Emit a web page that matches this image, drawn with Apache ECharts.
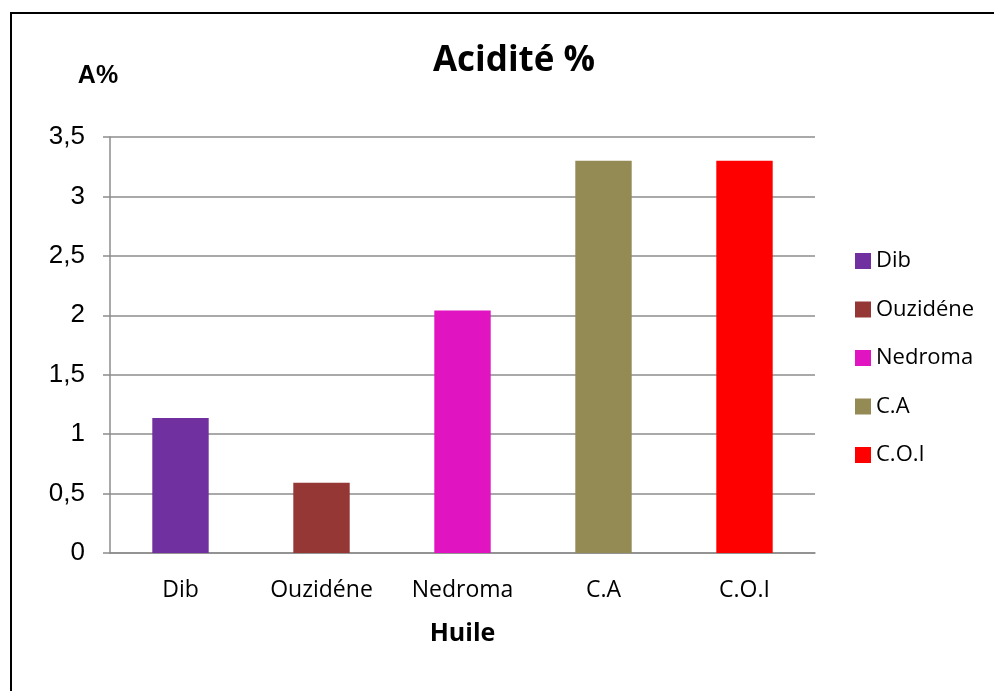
<!DOCTYPE html>
<html>
<head>
<meta charset="utf-8">
<title>Acidité %</title>
<script src="https://cdn.jsdelivr.net/npm/echarts@6/dist/echarts.min.js"></script>
<style>
  html, body { margin: 0; padding: 0; background: #fff; overflow: hidden; }
  .frame { position: absolute; left: 10px; top: 12px; width: 1100px; height: 800px; border: 2px solid #000; }
  #chart { position: absolute; left: 0; top: 0; width: 994px; height: 691px; }
</style>
</head>
<body>
<div class="frame"></div>
<div id="chart"></div>
<script>
// huiles et acidité (%)
const categories = ['Dib', 'Ouzidéne', 'Nedroma', 'C.A', 'C.O.I']
const acidite = [1.135, 0.59, 2.04, 3.3, 3.3]
const colors = ['#7030A0', '#953735', '#E014C0', '#948A54', '#FF0000']

const gridColor = '#8c8c8c'

let Bar = echarts.init(document.getElementById('chart'))

// one series per huile so the legend lists them, stacked so each bar stays centred
let series = categories.map((name, i) => ({
  name: name,
  type: 'bar',
  stack: 'huile',
  barWidth: '40%',
  itemStyle: { color: colors[i] },
  data: categories.map((c, j) => (j === i ? acidite[i] : null))
}))

const option = {
  animation: false,
  title: {
    text: 'Acidité %',
    left: 509,
    top: 39,
    textAlign: 'center',
    textStyle: { fontFamily: 'Open Sans', fontWeight: 'bold', fontSize: 35, color: '#000' }
  },
  legend: {
    orient: 'vertical',
    left: 855,
    top: 250,
    padding: 0,
    itemWidth: 16,
    itemHeight: 16,
    itemGap: 26.5,
    icon: 'rect',
    textStyle: { fontFamily: 'Open Sans', fontSize: 22, color: '#000', lineHeight: 22 },
    data: categories
  },
  grid: { left: 110, right: 179, top: 137, bottom: 138 },
  xAxis: {
    type: 'category',
    data: categories,
    name: 'Huile',
    nameLocation: 'middle',
    nameGap: 68,
    nameTextStyle: { fontFamily: 'Open Sans', fontWeight: 'bold', fontSize: 25, color: '#000' },
    axisLine: { lineStyle: { color: gridColor, width: 1.5 } },
    axisTick: { length: 8, lineStyle: { color: gridColor, width: 1.5 } },
    axisLabel: { margin: 26, fontFamily: 'Open Sans', fontSize: 23, color: '#000' }
  },
  yAxis: {
    type: 'value',
    min: 0,
    max: 3.5,
    interval: 0.5,
    name: 'A%',
    nameLocation: 'end',
    nameGap: 48,
    nameTextStyle: { fontFamily: 'Liberation Sans', fontWeight: 'bold', fontSize: 25, color: '#000', padding: [0, 24, 0, 0] },
    axisLine: { show: true, lineStyle: { color: gridColor, width: 1.5 } },
    axisTick: { show: true, length: 7, lineStyle: { color: gridColor, width: 1.5 } },
    splitLine: { lineStyle: { color: gridColor, width: 1.5 } },
    axisLabel: {
      margin: 25,
      fontFamily: 'Liberation Sans',
      fontSize: 26,
      color: '#000',
      formatter: v => String(v).replace('.', ',')
    }
  },
  series: series
}

Bar.setOption(option)
</script>
</body>
</html>
